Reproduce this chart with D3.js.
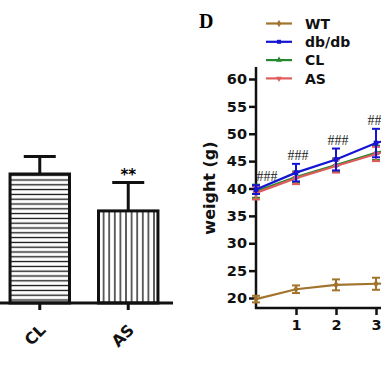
<!DOCTYPE html>
<html><head><meta charset="utf-8">
<script src="https://cdn.jsdelivr.net/npm/d3@7"></script>
<style>html,body{margin:0;padding:0;background:#fff;}svg{display:block;}</style>
</head><body>
<svg id="c" width="381" height="381"></svg>
<script>
// Left panel (bar chart)
const barCats = ["CL", "AS"];
const barVals = [4.3, 3.07];
const barErrs = [0.58, 0.95];
const barSig = ["", "**"];

// Right panel (line chart)
const weeks = [0, 1, 2, 3, 4];
const weekTicks = [1, 2, 3];
const yTicks = [20, 25, 30, 35, 40, 45, 50, 55, 60];
const seriesNames = ["WT", "db/db", "CL", "AS"];
const wtVals = [19.8, 21.6, 22.4, 22.6, 22.8];
const wtErr = [0.6, 0.7, 1.0, 1.1, 1.1];
const dbVals = [39.8, 42.9, 45.3, 48.3, 50.5];
const dbErr = [0.8, 1.6, 2.0, 2.6, 2.6];
const clVals = [39.5, 42.1, 44.3, 46.5, 48.5];
const clErr = [1.2, 1.0, 1.2, 1.3, 1.3];
const asVals = [39.2, 41.9, 44.1, 46.3, 48.3];
const asErr = [1.2, 1.1, 1.2, 1.3, 1.3];
const hashLabels = ["###", "###", "###", "###"];
const colors = ["#a2732c", "#1414d2", "#23892c", "#e05c5c"];

const FONT = "DejaVu Sans, Verdana, sans-serif";
const svg = d3.select("#c");

// ---------- Left bar chart ----------
const bx = d3.scaleBand().domain(barCats).range([-16.5, 184.5]).paddingInner(0.328).paddingOuter(0.3);
const by = d3.scaleLinear().domain([0, 5]).range([303, 153]);
const defs = svg.append("defs");
defs.append("pattern").attr("id", "hz").attr("patternUnits", "userSpaceOnUse")
  .attr("width", 8).attr("height", 4.8)
  .append("line").attr("x1", 0).attr("x2", 8).attr("y1", 2.4).attr("y2", 2.4)
  .attr("stroke", "#111").attr("stroke-width", 1.3);
defs.append("pattern").attr("id", "vt").attr("patternUnits", "userSpaceOnUse")
  .attr("width", 5.6).attr("height", 8).attr("x", 0)
  .append("line").attr("x1", 2.8).attr("x2", 2.8).attr("y1", 0).attr("y2", 8)
  .attr("stroke", "#111").attr("stroke-width", 1.3);
const fills = ["url(#hz)", "url(#vt)"];
const lg = svg.append("g");
barCats.forEach((c, i) => {
  const x0 = bx(c), w = bx.bandwidth(), cx = x0 + w / 2;
  lg.append("line").attr("x1", cx).attr("x2", cx).attr("y1", by(barVals[i])).attr("y2", by(barVals[i] + barErrs[i]))
    .attr("stroke", "#111").attr("stroke-width", 3);
  lg.append("line").attr("x1", cx - 16).attr("x2", cx + 16).attr("y1", by(barVals[i] + barErrs[i])).attr("y2", by(barVals[i] + barErrs[i]))
    .attr("stroke", "#111").attr("stroke-width", 3);
  lg.append("rect").attr("x", x0).attr("y", by(barVals[i])).attr("width", w).attr("height", by(0) - by(barVals[i]))
    .attr("fill", "#fff");
  lg.append("rect").attr("x", x0).attr("y", by(barVals[i])).attr("width", w).attr("height", by(0) - by(barVals[i]))
    .attr("fill", fills[i]).attr("stroke", "#111").attr("stroke-width", 3);
  if (barSig[i]) lg.append("text").attr("x", cx).attr("y", by(barVals[i] + barErrs[i]) - 2)
    .attr("text-anchor", "middle").attr("font-family", FONT)
    .attr("font-size", 15).attr("font-weight", "bold").text(barSig[i]);
});
const bxAxis = lg.append("g").attr("transform", "translate(0,303)")
  .call(d3.axisBottom(bx).tickSizeOuter(0).tickSize(7).tickPadding(0));
bxAxis.select(".domain").attr("stroke", "#111").attr("stroke-width", 3).attr("d", "M-5,0H173");
bxAxis.selectAll(".tick line").attr("stroke", "#111").attr("stroke-width", 3);
bxAxis.selectAll(".tick text").attr("fill", "#111")
  .attr("font-family", FONT).attr("font-size", 16).attr("font-weight", "bold")
  .attr("text-anchor", "end").attr("dy", 0).attr("y", 0).attr("x", 0)
  .attr("transform", "translate(7,28) rotate(-45)");

// ---------- Right line chart ----------
const x = d3.scaleLinear().domain([0, 1]).range([256, 296]);
const y = d3.scaleLinear().domain([20, 60]).range([298, 79]);
const rg = svg.append("g");
svg.append("text").attr("x", 199).attr("y", 28).attr("font-family", "Times New Roman, Liberation Serif, serif")
  .attr("font-size", 20).attr("font-weight", "bold").text("D");

const yAxis = rg.append("g").attr("transform", "translate(256,0)")
  .call(d3.axisLeft(y).tickValues(yTicks).tickSize(7).tickPadding(2).tickSizeOuter(0));
yAxis.select(".domain").attr("stroke", "#111").attr("stroke-width", 2.5).attr("d", "M0," + y(62.2) + "V" + 309);
yAxis.selectAll(".tick line").attr("stroke", "#111").attr("stroke-width", 2.5);
yAxis.selectAll(".tick text").attr("fill", "#111").attr("font-family", FONT)
  .attr("font-size", 14.5).attr("font-weight", "bold");

const xAxis = rg.append("g").attr("transform", "translate(0,308)")
  .call(d3.axisBottom(x).tickValues(weekTicks).tickFormat(d3.format("d")).tickSize(7).tickPadding(5).tickSizeOuter(0));
xAxis.select(".domain").attr("stroke", "#111").attr("stroke-width", 2.5).attr("d", "M255,0H390");
xAxis.selectAll(".tick line").attr("stroke", "#111").attr("stroke-width", 2.5);
xAxis.selectAll(".tick text").attr("fill", "#111").attr("font-family", FONT)
  .attr("font-size", 14.5).attr("font-weight", "bold");

svg.append("text").attr("transform", "translate(215,188) rotate(-90)").attr("text-anchor", "middle")
  .attr("font-family", FONT).attr("font-size", 16).attr("font-weight", "bold")
  .attr("fill", "#111").text("weight (g)");

const allVals = [wtVals, dbVals, clVals, asVals];
const allErr = [wtErr, dbErr, clErr, asErr];
const line = d3.line().x((d, i) => x(weeks[i])).y(d => y(d));
const shapes = [d3.symbolDiamond, d3.symbolSquare, d3.symbolTriangle, d3.symbolTriangle];
[0, 2, 3, 1].forEach(s => {
  const g = rg.append("g");
  const vals = allVals[s], errs = allErr[s], col = colors[s];
  vals.forEach((v, i) => {
    const cx = x(weeks[i]);
    g.append("line").attr("x1", cx).attr("x2", cx).attr("y1", y(v - errs[i])).attr("y2", y(v + errs[i]))
      .attr("stroke", col).attr("stroke-width", 2);
    [v - errs[i], v + errs[i]].forEach(e => g.append("line").attr("x1", cx - 4).attr("x2", cx + 4)
      .attr("y1", y(e)).attr("y2", y(e)).attr("stroke", col).attr("stroke-width", 2));
  });
  g.append("path").datum(vals).attr("d", line).attr("fill", "none").attr("stroke", col).attr("stroke-width", 2.2);
  vals.forEach((v, i) => {
    g.append("path").attr("d", d3.symbol().type(shapes[s]).size(22)())
      .attr("transform", `translate(${x(weeks[i])},${y(v)})` + (s === 3 ? " rotate(180)" : ""))
      .attr("fill", col);
  });
});

// significance labels
hashLabels.forEach((h, i) => {
  rg.append("text").attr("x", x(weeks[i]) + (i === 0 ? 11 : 2)).attr("y", y(dbVals[i] + dbErr[i]) - 4)
    .attr("text-anchor", "middle").attr("font-family", "Times New Roman, Liberation Serif, serif")
    .attr("font-size", 14).attr("fill", "#222").text(h);
});

// legend
const leg = svg.append("g");
seriesNames.forEach((n, i) => {
  const ly = 23.5 + i * 18.3;
  leg.append("line").attr("x1", 266).attr("x2", 292).attr("y1", ly).attr("y2", ly)
    .attr("stroke", colors[i]).attr("stroke-width", 2.2);
  leg.append("path").attr("d", d3.symbol().type(shapes[i]).size(16)())
    .attr("transform", `translate(279,${ly})` + (i === 3 ? " rotate(180)" : "")).attr("fill", colors[i]);
  leg.append("text").attr("x", 305).attr("y", ly + 5.2).attr("font-family", FONT)
    .attr("font-size", 14).attr("font-weight", "bold").attr("fill", "#111").text(n);
});
</script>
</body></html>
